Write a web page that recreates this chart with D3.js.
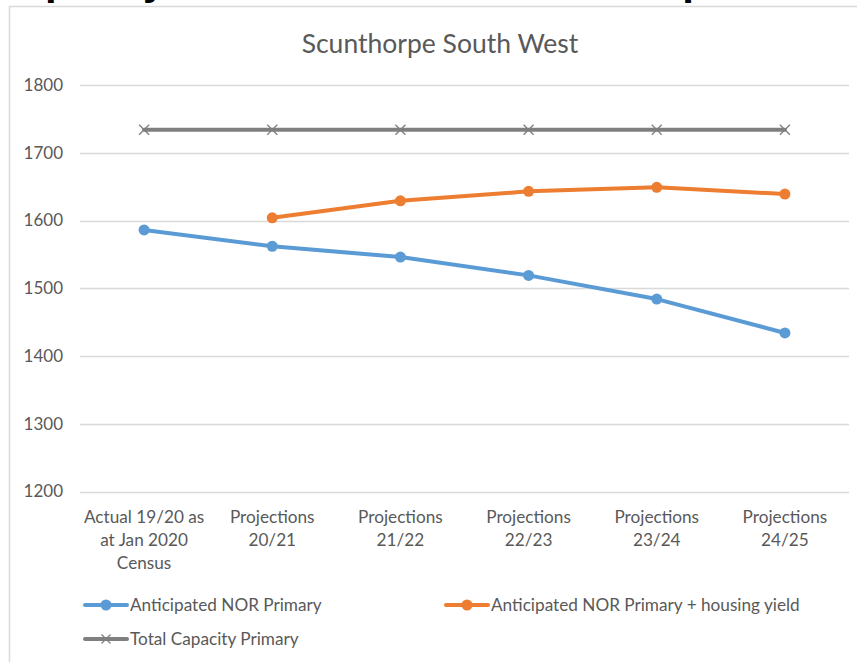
<!DOCTYPE html>
<html>
<head>
<meta charset="utf-8">
<script src="https://cdn.jsdelivr.net/npm/d3@7"></script>
<style>
  html, body { margin: 0; padding: 0; background: #ffffff; }
  svg { display: block; }
  text { font-family: Lato, "Open Sans", "Liberation Sans", sans-serif; }
</style>
</head>
<body>
<svg id="chart" width="857" height="662"></svg>
<script>
// Pupil numbers by year
const categories = [
  ["Actual 19/20 as", "at Jan 2020", "Census"],
  ["Projections", "20/21"],
  ["Projections", "21/22"],
  ["Projections", "22/23"],
  ["Projections", "23/24"],
  ["Projections", "24/25"]
];
const norPrimary = [1586, 1562, 1546, 1519, 1484, 1434];
const norHousing = [null, 1604, 1629, 1643, 1649, 1639];
const capacityPrimary = [1734, 1734, 1734, 1734, 1734, 1734];
const yTicks = [1200, 1300, 1400, 1500, 1600, 1700, 1800];

const seriesNames = [
  "Anticipated NOR Primary",
  "Anticipated NOR Primary + housing yield",
  "Total Capacity Primary"
];

const svg = d3.select("#chart");
const textColor = "#595959";

// Page heading above the chart; only its lower edge falls inside the view
svg.append("text")
  .attr("x", -8.6).attr("y", -6)
  .style("font-family", "'Liberation Sans', Arial, sans-serif")
  .style("font-weight", "bold")
  .style("font-size", "42px")
  .attr("fill", "#000")
  .text("Capacity and Number on Roll Comparison");

// Chart frame
svg.append("rect")
  .attr("x", 9.5).attr("y", 6.5)
  .attr("width", 860).attr("height", 680)
  .attr("fill", "#fff")
  .attr("stroke", "#d9d9d9").attr("stroke-width", 1.5);

svg.append("text")
  .attr("x", 440).attr("y", 53)
  .attr("text-anchor", "middle")
  .attr("fill", textColor)
  .style("font-size", "26.5px")
  .text("Scunthorpe South West");

const x = d3.scaleBand()
  .domain(d3.range(categories.length))
  .range([80, 849]);
const y = d3.scaleLinear()
  .domain([1200, 1800])
  .range([491.5, 85]);

const cx = i => x(i) + x.bandwidth() / 2;

// Gridlines
svg.append("g")
  .selectAll("line")
  .data(yTicks)
  .join("line")
  .attr("x1", 80).attr("x2", 849)
  .attr("y1", d => Math.round(y(d)) + 0.5)
  .attr("y2", d => Math.round(y(d)) + 0.5)
  .attr("stroke", "#d9d9d9").attr("stroke-width", 1.3);

// Y axis labels
const yAxis = svg.append("g")
  .attr("transform", "translate(69,0)")
  .call(d3.axisLeft(y).tickValues(yTicks).tickSize(0).tickPadding(6).tickFormat(d3.format("d")));
yAxis.select(".domain").remove();
yAxis.selectAll("text")
  .attr("fill", textColor)
  .style("font-size", "17px")
  .style("font-family", "Lato, 'Open Sans', sans-serif");

// X axis category labels
const xAxis = svg.append("g")
  .attr("transform", "translate(0,492)")
  .call(d3.axisBottom(x).tickSize(0).tickFormat(""));
xAxis.select(".domain").remove();
xAxis.selectAll(".tick").each(function (i) {
  const t = d3.select(this).append("text")
    .attr("text-anchor", "middle")
    .attr("fill", textColor)
    .style("font-size", "17.2px")
    .style("font-family", "Lato, 'Open Sans', sans-serif");
  categories[i].forEach((line, k) => {
    t.append("tspan").attr("x", 0).attr("y", 31 + k * 23).text(line);
  });
});

const line = d3.line()
  .defined(d => d.v != null)
  .x(d => cx(d.i))
  .y(d => y(d.v));

function points(arr) { return arr.map((v, i) => ({ i, v })); }

function drawLine(arr, color) {
  svg.append("path")
    .datum(points(arr))
    .attr("d", line)
    .attr("fill", "none")
    .attr("stroke", color)
    .attr("stroke-width", 4)
    .attr("stroke-linejoin", "round")
    .attr("stroke-linecap", "round");
}

function drawCircles(arr, color) {
  svg.append("g")
    .selectAll("circle")
    .data(points(arr).filter(d => d.v != null))
    .join("circle")
    .attr("cx", d => cx(d.i)).attr("cy", d => y(d.v))
    .attr("r", 5.5)
    .attr("fill", color);
}

function crossPath(px, py, s) {
  return `M${px - s},${py - s}L${px + s},${py + s}M${px - s},${py + s}L${px + s},${py - s}`;
}

// Capacity line with cross markers
const capColor = "#7f7f7f";
drawLine(capacityPrimary, capColor);
svg.append("g")
  .selectAll("path")
  .data(points(capacityPrimary))
  .join("path")
  .attr("d", d => crossPath(cx(d.i), y(d.v), 5))
  .attr("stroke", capColor).attr("stroke-width", 1.3).attr("fill", "none");

const blue = "#5b9bd5", orange = "#ed7d31";
drawLine(norHousing, orange);
drawCircles(norHousing, orange);
drawLine(norPrimary, blue);
drawCircles(norPrimary, blue);

// Legend
const legendItems = [
  { name: seriesNames[0], color: blue, marker: "circle", x: 85, y: 605 },
  { name: seriesNames[1], color: orange, marker: "circle", x: 446, y: 605 },
  { name: seriesNames[2], color: capColor, marker: "cross", x: 85, y: 639 }
];
const lg = svg.append("g");
legendItems.forEach(it => {
  const g = lg.append("g");
  g.append("line")
    .attr("x1", it.x).attr("x2", it.x + 42)
    .attr("y1", it.y).attr("y2", it.y)
    .attr("stroke", it.color).attr("stroke-width", 4).attr("stroke-linecap", "round");
  if (it.marker === "circle") {
    g.append("circle").attr("cx", it.x + 21).attr("cy", it.y).attr("r", 5.5).attr("fill", it.color);
  } else {
    g.append("path").attr("d", crossPath(it.x + 21, it.y, 4.5))
      .attr("stroke", it.color).attr("stroke-width", 1.3).attr("fill", "none");
  }
  g.append("text")
    .attr("x", it.x + 45).attr("y", it.y + 6)
    .attr("fill", textColor)
    .style("font-size", "17.2px")
    .text(it.name);
});
</script>
</body>
</html>
